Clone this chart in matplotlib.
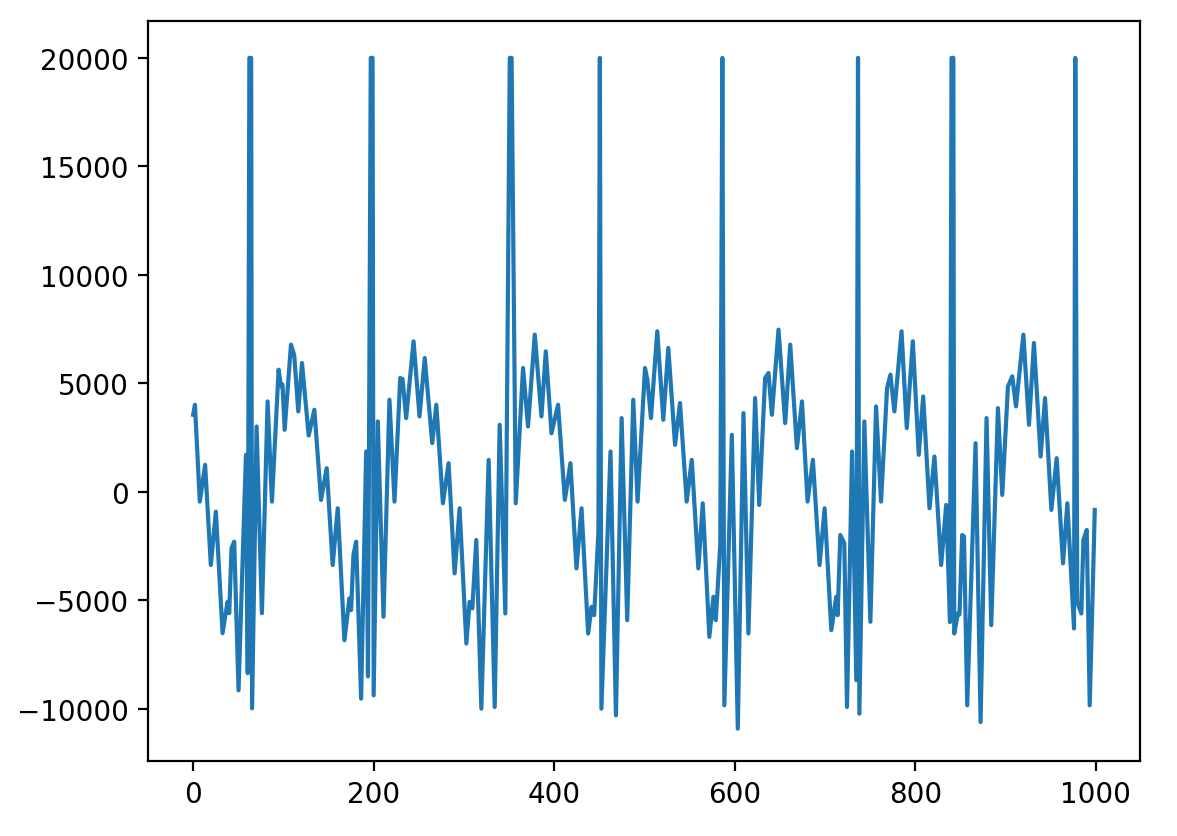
import matplotlib
matplotlib.use("Agg")
import matplotlib.pyplot as plt

# turning points (sample index, value)
sample_idx = [
    0, 2, 7.4, 13.3, 19.6, 25.2, 32.6, 38.1, 40, 42.5, 45.5, 50.3,
    58.5, 60.5, 62.3, 64.3, 65.3, 70.3, 76.2, 82.5, 87.3, 94.7, 97.3, 99,
    101.4, 108.4, 112, 116.5, 120.6, 128, 134.3, 141.7, 148, 154.6, 160.2,
    167.6, 173.1, 175, 177.6, 180.6, 186.1, 191.7, 193.7, 196.8, 198.8, 200,
    204.6, 210.9, 217.5, 223.1, 229.4, 232, 236, 244.2, 250.8, 256.6, 264.9,
    269.4, 276.7, 283, 289.7, 295.2, 302.7, 306.3, 309.3, 313.7, 319.3,
    327.4, 334.1, 339.6, 345.9, 350.8, 352.8, 357.4, 365.5, 371, 378.5,
    385.9, 390.7, 397, 404.3, 411.8, 418, 424.7, 430.3, 437.6, 441.4, 444.3,
    449, 450.6, 452.3, 462.4, 468.4, 474.7, 480.9, 487.6, 492.4, 500.6,
    503.2, 507.2, 514.2, 520.9, 526.4, 533.9, 539.4, 546.8, 552.4, 559.7,
    564.6, 571.9, 576.4, 579, 584, 586.3, 588.5, 596.8, 603.4, 609.7,
    615.2, 622.6, 627.1, 633.7, 637.4, 641.2, 648.5, 655.9, 661.5, 668.9,
    674.5, 680.7, 686.6, 694, 699.6, 707, 712.5, 714, 717, 721.4, 724.4,
    730, 734.7, 736.6, 738.1, 743.6, 750.3, 756.6, 762.1, 768.8, 772.5,
    776.9, 784.8, 790.6, 797.3, 803.9, 808.8, 815.8, 821.3, 828.7, 834.3,
    838.5, 840.2, 842.2, 843.2, 847.2, 849, 852, 854, 857.6, 866.8, 872.4,
    879, 884.2, 891.6, 896.4, 902.7, 907.5, 911.6, 919.8, 926, 931.5,
    938.9, 943.8, 950.8, 956.7, 963.7, 968.5, 975.9, 977.3, 979.5, 984,
    986.3, 990, 993.3, 998.9,
]
signal = [
    3555, 4017, -447, 1247, -3370, -909, -6510, -5064, -5590, -2600, -2293, -9142,
    1708, -8357, 20000, 20000, -9973, 3016, -5590, 4170, -447, 5633, 4863, 4950,
    2863, 6787, 6300, 3710, 5941, 2600, 3786, -369, 1093, -3370, -754,
    -6833, -4909, -5448, -2909, -2293, -9526, 1862, -8500, 20000, 20000, -9373,
    3247, -5756, 4248, -447, 5248, 5200, 3401, 6941, 3478, 6172, 2247,
    4017, -524, 1324, -3755, -754, -6987, -5064, -5371, -2216, -9988,
    1477, -9911, 3093, -5602, 20000, 20000, -524, 5710, 3016, 7248,
    3478, 6479, 2700, 4017, -369, 1324, -3524, -754, -6525, -5294, -5679,
    -1832, 20000, -9988, 1862, -10296, 3401, -5910, 4248, -447, 5710,
    5171, 3401, 7402, 3324, 6634, 2170, 4094, -447, 1477, -3524,
    -524, -6679, -4832, -5910, -2447, 20000, -9834, 2632, -10911, 3632,
    -6525, 4325, -600, 5248, 5479, 3555, 7479, 3171, 6787, 2017,
    4170, -447, 1477, -3370, -754, -6371, -4832, -5679, -1985, -2370, -9911,
    1862, -8680, 20000, -10219, 3247, -5987, 3940, -447, 4787, 5402,
    3710, 7402, 2940, 6941, 1708, 4401, -754, 1631, -3370, -600,
    -6000, 20000, 20000, -6525, -5602, -5650, -1985, -2050, -9834, 2247, -10603,
    3401, -6140, 3863, -139, 4863, 5325, 3940, 7248, 3093, 6864,
    1631, 4325, -831, 1555, -3293, -524, -6294, 20000, -5064, -5602,
    -2216, -1754, -9834, -831,
]

fig = plt.figure(figsize=(1177 / 200, 837 / 200), dpi=200)
ax = fig.add_axes([148 / 1177, 75 / 837, 992 / 1177, 740 / 837])
ax.plot(sample_idx, signal)
ax.set_xlim(-50, 1049)
ax.set_ylim(-12400, 21700)

fig.savefig("out.png", dpi=200)
